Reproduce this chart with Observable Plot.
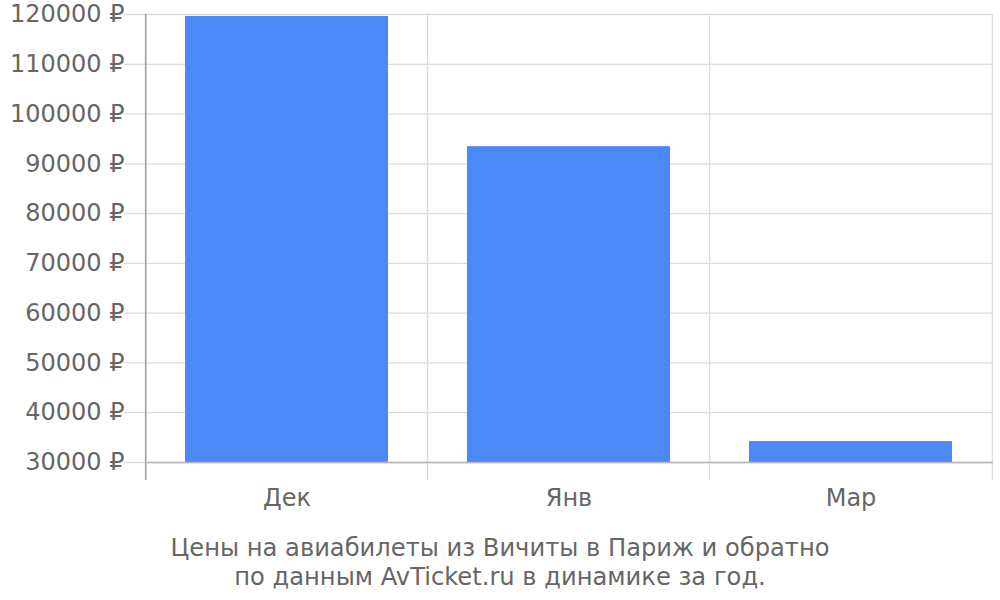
<!DOCTYPE html>
<html>
<head>
<meta charset="utf-8">
<script src="https://cdn.jsdelivr.net/npm/d3@7"></script>
<script src="https://cdn.jsdelivr.net/npm/@observablehq/plot@0.6"></script>
<style>
  body { margin: 0; background: #fff; font-family: "DejaVu Sans", sans-serif; }
  #caption { width: 1000px; text-align: center; color: #666; font-size: 24.2px; line-height: 29px; margin-top: 3px; }
</style>
</head>
<body>
<div id="chart"></div>
<div id="caption">Цены на авиабилеты из Вичиты в Париж и обратно<br>по данным AvTicket.ru в динамике за год.</div>
<script>
const months = ["Дек", "Янв", "Мар"];
const prices = [119600, 93450, 34200];
const yTicks = [30000, 40000, 50000, 60000, 70000, 80000, 90000, 100000, 110000, 120000];
const yMin = 30000, yMax = 120000;

const data = months.map((m, i) => ({month: m, price: prices[i]}));

const width = 1000, marginLeft = 145, marginRight = 7;
const step = (width - marginLeft - marginRight) / months.length;

const plot = Plot.plot({
  width: width,
  height: 531,
  marginTop: 14,
  marginBottom: 69,
  marginLeft: marginLeft,
  marginRight: marginRight,
  style: { fontFamily: "DejaVu Sans, sans-serif", fontSize: "24px", color: "#666", background: "#fff" },
  x: { domain: months, paddingInner: 0.28, paddingOuter: 0.14, label: null },
  y: { domain: [yMin, yMax], label: null },
  marks: [
    // horizontal gridlines
    Plot.ruleY(yTicks, { stroke: "#dcdcdc", strokeWidth: 1.3, insetLeft: -21 }),
    // vertical gridlines at band boundaries
    Plot.ruleX(months, { x: d => d, dx: -step / 2, y1: yMax, y2: yMin, stroke: "#dcdcdc", strokeWidth: 1.3, insetBottom: -18 }),
    Plot.ruleX([months[months.length - 1]], { x: d => d, dx: step / 2, y1: yMax, y2: yMin, stroke: "#dcdcdc", strokeWidth: 1.3, insetBottom: -18 }),
    Plot.barY(data, { x: "month", y1: yMin, y2: "price", fill: "#4d88f9" }),
    // left axis line
    Plot.ruleX([months[0]], { x: d => d, dx: -step / 2, y1: yMax, y2: yMin, stroke: "#9e9e9e", strokeWidth: 1.5, insetBottom: -18 }),
    // baseline
    Plot.ruleY([yMin], { stroke: "#b5b5b5", strokeWidth: 1.5 }),
    Plot.axisY(yTicks, { tickSize: 0, tickPadding: 21, tickFormat: d => d + " ₽", fill: "#666", fontSize: 24 }),
    Plot.axisX({ tickSize: 0, tickPadding: 26, fill: "#666", fontSize: 24 })
  ]
});
document.getElementById("chart").appendChild(plot);
</script>
</body>
</html>
